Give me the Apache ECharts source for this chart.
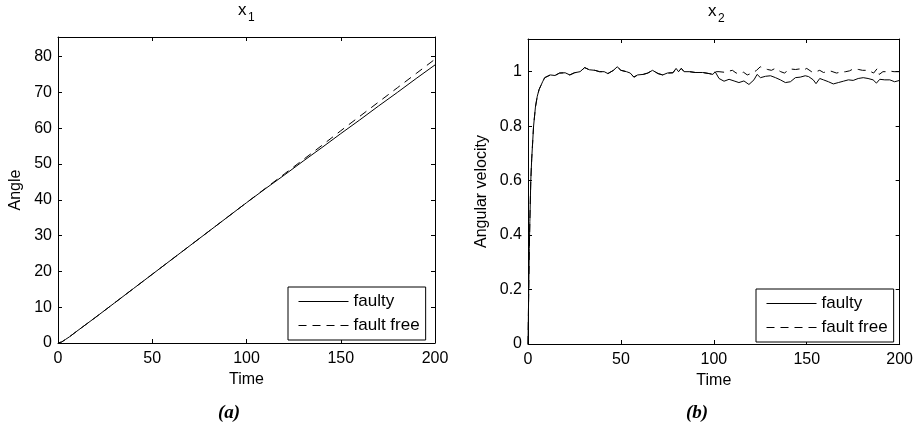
<!DOCTYPE html>
<html>
<head>
<meta charset="utf-8">
<script src="https://cdn.jsdelivr.net/npm/echarts@6/dist/echarts.min.js"></script>
<style>
  html, body { margin: 0; padding: 0; background: #fff; }
  #chart { width: 916px; height: 429px; }
</style>
</head>
<body>
<div id="chart"></div>
<script>
// x1 (angle)
const x1Time = [0, 2, 4, 6, 8, 10, 20, 30, 40, 50, 60, 70, 80, 90, 100, 110, 120, 130, 140, 150, 160, 170, 180, 190, 200]
const x1Faulty = [0, 0.3, 1.0, 1.7, 2.5, 3.3, 7.2, 11.2, 15.2, 19.2, 23.2, 27.2, 31.2, 35.2, 39.2, 43.1, 46.9, 50.8, 54.6, 58.5, 62.3, 66.2, 70.0, 73.9, 77.7]
const x1FaultFree = [0, 0.3, 1.0, 1.7, 2.5, 3.3, 7.2, 11.2, 15.2, 19.2, 23.2, 27.2, 31.2, 35.2, 39.2, 43.2, 47.2, 51.2, 55.2, 59.3, 63.3, 67.3, 71.3, 75.3, 79.3]

// x2 (angular velocity), both runs coincide up to t = 100
const x2SharedTime = [0, 0.4, 0.7, 1, 1.5, 2, 3, 4, 5, 6, 7, 8, 9, 10, 12, 14.5, 17, 20, 22.5, 25, 28, 30.5, 33, 36, 38.5, 41, 43, 46, 48, 50, 53, 55, 57, 59, 62, 64.5, 67, 70, 72.5, 75, 78, 79.7, 81, 82.5, 84, 87, 90, 94, 97.5, 99.5]
const x2Shared = [0, 0.2, 0.35, 0.45, 0.6, 0.68, 0.8, 0.87, 0.91, 0.935, 0.95, 0.965, 0.978, 0.985, 0.988, 0.986, 0.995, 0.996, 0.988, 0.996, 1.0, 1.015, 1.007, 1.005, 1.0, 1.0, 0.993, 1.005, 1.018, 1.005, 1.0, 0.995, 0.98, 0.988, 0.99, 0.995, 1.005, 0.993, 0.988, 0.995, 0.996, 1.012, 1.0, 1.012, 1.0, 1.0, 0.997, 0.997, 0.993, 0.99]
const x2FaultyTime = [100.7, 102.8, 105.5, 108.2, 110.9, 113.5, 116.2, 118.9, 119.8, 121.6, 123.3, 125.1, 127.8, 130.5, 133.2, 135.8, 138.5, 141.2, 143.9, 146.5, 149.2, 151, 153.5, 155, 157, 159, 161.7, 164.3, 167, 169.7, 172.4, 175, 177.7, 180.4, 183, 185.7, 187.5, 189.3, 192, 194.7, 197.3, 200]
const x2Faulty = [1.0, 0.975, 0.965, 0.972, 0.966, 0.96, 0.966, 0.953, 0.95, 0.97, 0.99, 0.978, 0.983, 0.985, 0.978, 0.97, 0.96, 0.963, 0.978, 0.98, 0.985, 0.982, 0.97, 0.956, 0.975, 0.97, 0.963, 0.955, 0.96, 0.965, 0.97, 0.968, 0.975, 0.978, 0.975, 0.97, 0.958, 0.972, 0.97, 0.97, 0.963, 0.968]
const x2FreeTime = [100.7, 102.8, 105.5, 108, 110, 112, 114, 116, 118, 121, 123, 125, 127, 129, 131, 133, 136, 138, 141, 144, 146, 148, 150, 153, 155, 157, 159, 161, 163, 166, 168, 171, 173, 175, 178, 180, 183, 186, 188, 189, 191, 193, 195, 197, 200]
const x2FaultFree = [1.0, 1.0, 0.998, 1.002, 1.005, 0.995, 0.993, 0.998, 0.988, 0.996, 1.005, 1.018, 1.012, 1.008, 1.005, 1.012, 1.0, 0.995, 1.01, 1.008, 1.01, 1.005, 1.012, 0.998, 1.0, 1.005, 0.997, 1.0, 1.002, 0.995, 0.998, 1.0, 1.003, 1.01, 1.008, 1.005, 1.005, 0.995, 1.012, 0.99, 1.0, 1.0, 1.002, 1.0, 1.0]

const FONT = 'Liberation Sans, Arial, sans-serif'
const zip = (t, v) => t.map((x, i) => [x, v[i]])

const chart = echarts.init(document.getElementById('chart'))

function xAxis(grid, top, name) {
  return {
    type: 'value', gridIndex: grid, position: top ? 'top' : 'bottom',
    min: 0, max: 200, interval: 50,
    name: top ? '' : name, nameLocation: 'middle', nameGap: 27,
    nameTextStyle: { fontFamily: FONT, fontSize: 16, color: '#000' },
    axisLine: { show: true, onZero: false, lineStyle: { color: '#000', width: 1 } },
    axisTick: { show: true, inside: true, length: 4, lineStyle: { color: '#000' } },
    axisLabel: { show: !top, margin: 8, fontFamily: FONT, fontSize: 16, color: '#000' },
    splitLine: { show: false }
  }
}
function yAxis(grid, right, max, interval, name, gap) {
  return {
    type: 'value', gridIndex: grid, position: right ? 'right' : 'left',
    min: 0, max: max, interval: interval,
    name: right ? '' : name, nameLocation: 'middle', nameGap: gap,
    nameTextStyle: { fontFamily: FONT, fontSize: 16, color: '#000' },
    axisLine: { show: true, onZero: false, lineStyle: { color: '#000', width: 1 } },
    axisTick: { show: true, inside: true, length: 4, lineStyle: { color: '#000' } },
    axisLabel: { show: !right, showMaxLabel: false, margin: 6, fontFamily: FONT, fontSize: 16, color: '#000' },
    splitLine: { show: false }
  }
}
function line(name, xi, data, dashed) {
  return {
    name: name, type: 'line', xAxisIndex: xi, yAxisIndex: xi,
    data: data, symbol: 'none', showSymbol: false,
    lineStyle: { color: '#000', width: 1, type: dashed ? [8, 6] : 'solid' },
    itemStyle: { color: '#000' }
  }
}
function legend(left, top) {
  return {
    orient: 'vertical', left: left, top: top,
    data: ['faulty', 'fault free'],
    itemWidth: 50, itemHeight: 14, itemGap: 7,
    padding: [6, 6, 6, 10],
    borderColor: '#000', borderWidth: 1, backgroundColor: '#fff',
    itemStyle: { opacity: 0 },
    lineStyle: { width: 1 },
    textStyle: { fontFamily: FONT, fontSize: 17, color: '#000' }
  }
}
function label(text, x, y, size, font) {
  return { type: 'text', x: x, y: y, style: { text: text, font: font || (size + 'px ' + FONT), fill: '#000' } }
}

chart.setOption({
  animation: false,
  grid: [
    { left: 58, top: 37, width: 377, height: 306 },
    { left: 528, top: 39, width: 374, height: 305 }
  ],
  xAxis: [xAxis(0, false, 'Time'), xAxis(0, true), xAxis(1, false, 'Time'), xAxis(1, true)],
  yAxis: [
    yAxis(0, false, 85.5, 10, 'Angle', 34), yAxis(0, true, 85.5, 10),
    yAxis(1, false, 1.12, 0.2, 'Angular velocity', 38), yAxis(1, true, 1.12, 0.2)
  ],
  legend: [legend(288, 287), legend(756, 289)],
  series: [
    line('faulty', 0, zip(x1Time, x1Faulty), false),
    line('fault free', 0, zip(x1Time, x1FaultFree), true),
    line('faulty', 2, zip(x2SharedTime.concat(x2FaultyTime), x2Shared.concat(x2Faulty)), false),
    line('fault free', 2, zip(x2SharedTime.concat(x2FreeTime), x2Shared.concat(x2FaultFree)), true)
  ],
  graphic: [
    label('x', 238, 2, 17), label('1', 248, 12, 12),
    label('x', 708, 3, 17), label('2', 718, 13, 12),
    label('(a)', 218, 404, 0, 'italic bold 19px Liberation Serif, serif'),
    label('(b)', 686, 404, 0, 'italic bold 19px Liberation Serif, serif')
  ]
})
</script>
</body>
</html>
